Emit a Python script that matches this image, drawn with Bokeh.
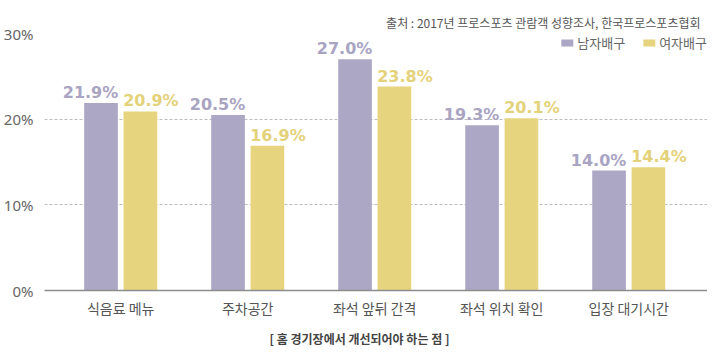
from bokeh.plotting import figure
from bokeh.models import ColumnDataSource, FixedTicker, Legend, LegendItem, Title, Range1d
from bokeh.core.properties import value
from bokeh.embed import file_html
from bokeh.resources import INLINE

categories = ["식음료 메뉴", "주차공간", "좌석 앞뒤 간격", "좌석 위치 확인", "입장 대기시간"]
men = [21.9, 20.5, 27.0, 19.3, 14.0]
women = [20.9, 16.9, 23.8, 20.1, 14.4]
series_names = ["남자배구", "여자배구"]
y_ticks = [0, 10, 20, 30]

PURPLE = "#aca7c5"
YELLOW = "#e6d47f"
KFONT = "Noto Sans CJK KR"

x = list(range(len(categories)))
src = ColumnDataSource(dict(
    xm=[i - 0.155 for i in x], xw=[i + 0.155 for i in x],
    men=men, women=women,
    men_lbl=[f"{v:.1f}%" for v in men], women_lbl=[f"{v:.1f}%" for v in women],
))

p = figure(width=707, height=354, output_backend="svg", toolbar_location=None,
           x_range=Range1d(-0.6, 4.62), y_range=Range1d(0, 30),
           min_border_left=40, min_border_right=0, min_border_top=33, min_border_bottom=64)
p.outline_line_color = None
p.background_fill_color = "white"

r1 = p.vbar(x="xm", top="men", width=0.265, source=src, color=PURPLE, line_color=None)
r2 = p.vbar(x="xw", top="women", width=0.265, source=src, color=YELLOW, line_color=None)

p.text(x="xm", y="men", text="men_lbl", source=src, text_color="#a9a4c2",
       text_font=value("DejaVu Sans"), text_font_style="bold", text_font_size="16px",
       text_align="center", text_baseline="bottom", x_offset=-10.5, y_offset=-1)
p.text(x="xw", y="women", text="women_lbl", source=src, text_color="#e4d27a",
       text_font=value("DejaVu Sans"), text_font_style="bold", text_font_size="16px",
       text_align="center", text_baseline="bottom", x_offset=10.5, y_offset=-1)

# axes
p.xaxis.ticker = FixedTicker(ticks=x)
p.xaxis.major_label_overrides = {i: c for i, c in enumerate(categories)}
p.xaxis.major_tick_line_color = None
p.xaxis.minor_tick_line_color = None
p.xaxis.axis_line_color = "#8c8c8c"
p.xaxis.axis_line_width = 1.5
p.xaxis.major_label_text_font = KFONT
p.xaxis.major_label_text_font_size = "14px"
p.xaxis.major_label_text_color = "#555555"
p.xaxis.major_label_text_line_height = 1.0
p.xaxis.major_label_standoff = 1

p.yaxis.ticker = FixedTicker(ticks=y_ticks)
p.yaxis.major_label_overrides = {t: f"{t}%" for t in y_ticks}
p.yaxis.axis_line_color = None
p.yaxis.major_tick_line_color = None
p.yaxis.minor_tick_line_color = None
p.yaxis.major_label_text_font = "Noto Sans"
p.yaxis.major_label_text_font_size = "15px"
p.yaxis.major_label_text_color = "#666666"
p.yaxis.major_label_standoff = 5

p.xgrid.grid_line_color = None
p.ygrid.ticker = FixedTicker(ticks=[10, 20, 30])
p.ygrid.grid_line_color = "#bdbdbd"
p.ygrid.grid_line_dash = "3 2"
p.ygrid.grid_line_width = 1

legend = Legend(items=[LegendItem(label=series_names[0], renderers=[r1]),
                       LegendItem(label=series_names[1], renderers=[r2])],
                location="top_right", orientation="horizontal",
                border_line_color=None, background_fill_alpha=0,
                label_text_font=KFONT, label_text_font_size="13px", label_text_color="#666666",
                glyph_width=15, glyph_height=9, label_standoff=3, spacing=16,
                padding=2, margin=0)
p.add_layout(legend)

source_title = Title(text="출처 : 2017년 프로스포츠 관람객 성향조사, 한국프로스포츠협회",
                     align="right", offset=7, text_font=KFONT, text_font_size="12px",
                     text_font_style="normal", text_color="#555555", standoff=6)
p.add_layout(source_title, "above")

axis_title = Title(text="[ 홈 경기장에서 개선되어야 하는 점 ]", align="left", offset=225,
                   text_font=KFONT, text_font_size="12px", text_font_style="bold",
                   text_color="#444444", standoff=14, text_line_height=1.0)
p.add_layout(axis_title, "below")

open("out.html", "w").write(file_html(p, INLINE))
